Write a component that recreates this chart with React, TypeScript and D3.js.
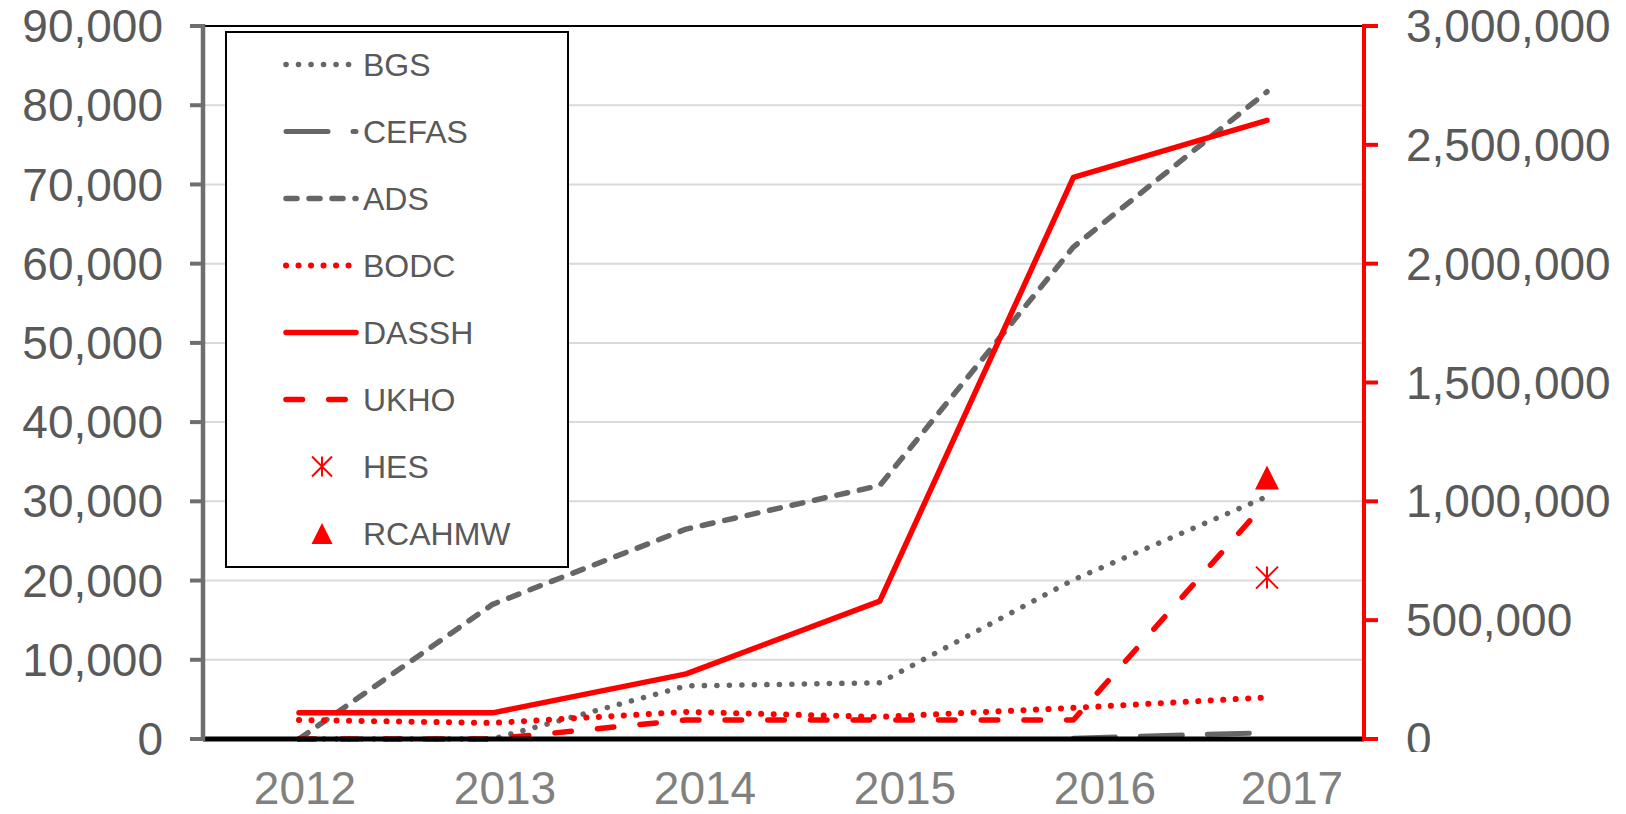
import React from 'react';
import * as d3 from 'd3';

// --- data ---
const years = ['2012', '2013', '2014', '2015', '2016', '2017'];
const bgs = [0, 0, 6700, 7100, 20100, 30600];
const cefas = [null, null, null, null, 100, 800];
const ads = [0, 17000, 26500, 32000, 62100, 81700];
const bodc = [80000, 67500, 114000, 93000, 131000, 175000];
const dassh = [110000, 110000, 274000, 580000, 2363000, 2603000];
const ukho = [0, 0, 80000, 80000, 80000, 1000000];
const hes = [null, null, null, null, null, 679000];
const rcahmw = [null, null, null, null, null, 1100000];

const leftTicks = [0, 10000, 20000, 30000, 40000, 50000, 60000, 70000, 80000, 90000];
const rightTicks = [0, 500000, 1000000, 1500000, 2000000, 2500000, 3000000];

const GRAY = '#666666';
const RED = '#ff0000';
const FONT = '"Liberation Sans", Arial, sans-serif';

const series = [
  { name: 'BGS', values: bgs, axis: 'left', color: GRAY, width: 5.5, dash: '0.1,12.4', kind: 'line' },
  { name: 'CEFAS', values: cefas, axis: 'left', color: GRAY, width: 5, dash: '42,25', kind: 'line' },
  { name: 'ADS', values: ads, axis: 'left', color: GRAY, width: 5.5, dash: '11,12', kind: 'line' },
  { name: 'BODC', values: bodc, axis: 'right', color: RED, width: 6, dash: '0.1,12.4', kind: 'line' },
  { name: 'DASSH', values: dassh, axis: 'right', color: RED, width: 5.5, dash: null, kind: 'line' },
  { name: 'UKHO', values: ukho, axis: 'right', color: RED, width: 5.5, dash: '16.5,26.2', kind: 'line' },
  { name: 'HES', values: hes, axis: 'right', color: RED, width: 2, dash: null, kind: 'star' },
  { name: 'RCAHMW', values: rcahmw, axis: 'right', color: RED, width: 0, dash: null, kind: 'triangle' },
];

const W = 1626;
const H = 814;
const xLeft = 203;
const xRight = 1364;
const yTop = 26;
const yBottom = 739;

const starPath = (r) => {
  const p = d3.path();
  p.moveTo(0, -r); p.lineTo(0, r);
  p.moveTo(-r, -r); p.lineTo(r, r);
  p.moveTo(-r, r); p.lineTo(r, -r);
  return p.toString();
};
const trianglePath = (s) => {
  const p = d3.path();
  p.moveTo(0, -s / 2); p.lineTo(s / 2, s / 2); p.lineTo(-s / 2, s / 2); p.closePath();
  return p.toString();
};

const fmt = d3.format(',');

export default function App() {
  const x = d3.scalePoint().domain(years).range([299, 1267]);
  const xLab = d3.scalePoint().domain(years).range([305, 1305]);
  const yL = d3.scaleLinear().domain([0, 90000]).range([yBottom, yTop]);
  const yR = d3.scaleLinear().domain([0, 3000000]).range([yBottom, yTop]);

  const lineFor = (s) => {
    const ys = s.axis === 'left' ? yL : yR;
    return d3.line()
      .defined((d) => d != null)
      .x((_, i) => x(years[i]))
      .y((d) => ys(d))(s.values);
  };

  const legendX = 226, legendY = 32, legendW = 342, legendH = 535;
  const rowY = (i) => 64.5 + i * 67;

  return (
    <div style={{ position: 'absolute', left: 0, top: 0 }}>
      <svg width={W} height={H} style={{ display: 'block', fontFamily: FONT }}>
        <defs>
          <clipPath id="rclip">
            <rect x={xRight} y={0} width={W - xRight} height={752} />
          </clipPath>
        </defs>
        <rect width={W} height={H} fill="#fff" />

        {/* gridlines */}
        {leftTicks.slice(1, -1).map((t) => (
          <line key={t} x1={xLeft} x2={xRight} y1={yL(t)} y2={yL(t)} stroke="#d9d9d9" strokeWidth={2} />
        ))}
        {/* plot border top */}
        <line x1={xLeft} x2={xRight} y1={yTop} y2={yTop} stroke="#000" strokeWidth={2} />

        {/* series lines */}
        {series.filter((s) => s.kind === 'line').map((s) => (
          <path key={s.name} d={lineFor(s)} fill="none" stroke={s.color} strokeWidth={s.width}
            strokeDasharray={s.dash || undefined} strokeLinecap="round" strokeLinejoin="round" />
        ))}
        {/* markers */}
        {series.filter((s) => s.kind !== 'line').map((s) =>
          s.values.map((v, i) => v == null ? null : (
            <path key={s.name + i}
              transform={`translate(${x(years[i])},${yR(v)})`}
              d={s.kind === 'star' ? starPath(11) : trianglePath(24)}
              fill={s.kind === 'star' ? 'none' : s.color}
              stroke={s.kind === 'star' ? s.color : 'none'} strokeWidth={s.width} />
          )))}

        {/* bottom axis */}
        <line x1={xLeft} x2={xRight} y1={yBottom} y2={yBottom} stroke="#000" strokeWidth={5} />

        {/* left axis */}
        <line x1={xLeft} x2={xLeft} y1={yTop - 2} y2={yBottom + 2} stroke="#6e6e6e" strokeWidth={4.5} />
        {leftTicks.map((t) => (
          <g key={t}>
            <line x1={190} x2={xLeft} y1={yL(t)} y2={yL(t)} stroke="#6e6e6e" strokeWidth={4} />
            <text x={163} y={yL(t)} dy="0.35em" textAnchor="end" fontSize={46} fill="#595959">{fmt(t)}</text>
          </g>
        ))}

        {/* right axis */}
        <line x1={xRight} x2={xRight} y1={yTop - 2} y2={yBottom + 2} stroke={RED} strokeWidth={4} />
        {rightTicks.map((t) => (
          <g key={t}>
            <line x1={xRight} x2={1378} y1={yR(t)} y2={yR(t)} stroke={RED} strokeWidth={4} />
            <text x={1406} y={yR(t)} dy="0.35em" textAnchor="start" fontSize={46} fill="#595959"
              clipPath="url(#rclip)">{fmt(t)}</text>
          </g>
        ))}

        {/* category labels */}
        {years.map((yr) => (
          <text key={yr} x={Math.min(xLab(yr), xRight - 72)} y={804} textAnchor="middle" fontSize={46} fill="#808080">{yr}</text>
        ))}

        {/* legend */}
        <rect x={legendX} y={legendY} width={legendW} height={legendH} fill="#fff" stroke="#000" strokeWidth={2} />
        {series.map((s, i) => {
          const cy = rowY(i);
          let sym;
          if (s.kind === 'line') {
            sym = <line x1={286} x2={356} y1={cy} y2={cy} stroke={s.color} strokeWidth={s.width}
              strokeDasharray={s.dash || undefined} strokeLinecap="round" />;
          } else if (s.kind === 'star') {
            sym = <path transform={`translate(322,${cy})`} d={starPath(10)} fill="none" stroke={s.color} strokeWidth={2} />;
          } else {
            sym = <path transform={`translate(322,${cy})`} d={trianglePath(21)} fill={s.color} />;
          }
          return (
            <g key={s.name}>
              {sym}
              <text x={363} y={cy} dy="0.35em" fontSize={32} fill="#595959">{s.name}</text>
            </g>
          );
        })}
      </svg>
    </div>
  );
}
